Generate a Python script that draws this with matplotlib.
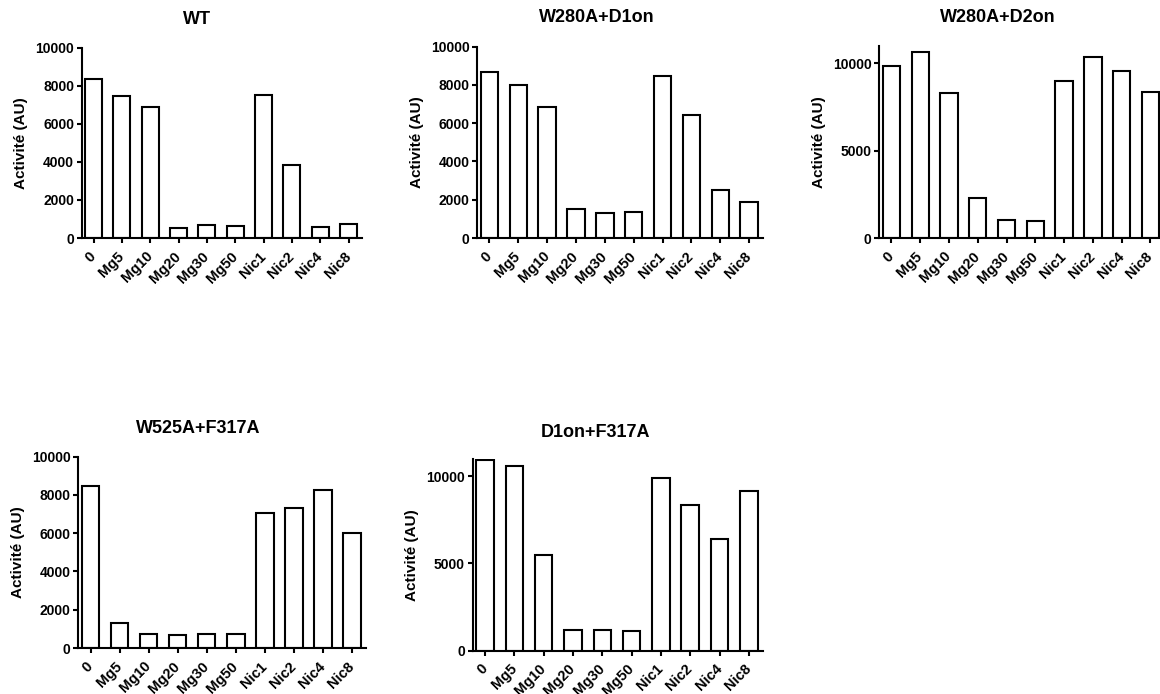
import matplotlib.pyplot as plt
import numpy as np

plt.rcParams["font.family"] = ["Liberation Sans", "DejaVu Sans"]
plt.rcParams["font.weight"] = "bold"

categories = ["0", "Mg5", "Mg10", "Mg20", "Mg30", "Mg50", "Nic1", "Nic2", "Nic4", "Nic8"]

wt = [8350, 7460, 6900, 540, 670, 630, 7490, 3840, 600, 750]
w280aD1on = [8660, 7990, 6850, 1540, 1280, 1350, 8480, 6430, 2510, 1900]
w280aD2on = [9860, 10630, 8280, 2310, 1010, 960, 9000, 10340, 9580, 8370]
w525aF317a = [8470, 1310, 710, 680, 730, 710, 7040, 7330, 8260, 6030]
d1onF317a = [10920, 10590, 5460, 1160, 1160, 1110, 9920, 8320, 6410, 9160]

lineW = 1.5
yTickSize = 10
xTickSize = 10.5
labelSize = 11
titleSize = 13

# panel layout in pixels: (axis x, axis right, y of zero, y of top), title centre, ylim, yticks
panels = [
    ("WT", wt, (81.7, 362, 238, 47.7), (197, 19), 10000, np.arange(0, 10001, 2000)),
    ("W280A+D1on", w280aD1on, (477.3, 762.7, 238, 46.5), (597, 18), 10000, np.arange(0, 10001, 2000)),
    ("W280A+D2on", w280aD2on, (879.3, 1164, 238, 45.7), (998, 18), 11000, [0, 5000, 10000]),
    ("W525A+F317A", w525aF317a, (78.3, 365.7, 648, 456.7), (198, 428), 10000, np.arange(0, 10001, 2000)),
    ("D1on+F317A", d1onF317a, (472.7, 762.7, 650.7, 458.7), (595, 433), 11000, [0, 5000, 10000]),
]

W, H = 1160, 694
fig = plt.figure(figsize=(W / 100, H / 100), dpi=100)

for title, values, box, titlePos, yTop, yTicks in panels:
    x0, x1, yZero, yHigh = box
    ax = fig.add_axes([x0 / W, 1 - yZero / H, (x1 - x0) / W, (yZero - yHigh) / H])
    x = np.arange(len(categories))
    ax.bar(x, values, width=0.6, facecolor="white", edgecolor="black", linewidth=lineW)
    ax.set_xlim(-0.42, len(categories) - 0.53)
    ax.set_ylim(0, yTop)
    ax.set_yticks(yTicks)
    ax.set_xticks(x)
    ax.set_xticklabels(categories, rotation=45, ha="right", va="center",
                       rotation_mode="anchor", fontsize=xTickSize, fontweight="bold")
    for lbl in ax.get_yticklabels():
        lbl.set_fontsize(yTickSize)
        lbl.set_fontweight("bold")
    ax.spines["top"].set_visible(False)
    ax.spines["right"].set_visible(False)
    ax.spines["left"].set_linewidth(lineW)
    ax.spines["bottom"].set_linewidth(lineW)
    ax.tick_params(axis="both", width=lineW, length=3.5, pad=2)
    ax.tick_params(axis="x", pad=8)
    ax.set_ylabel("Activité (AU)", fontsize=labelSize, fontweight="bold", labelpad=5)
    fig.text(titlePos[0] / W, 1 - titlePos[1] / H, title, ha="center", va="center",
             fontsize=titleSize, fontweight="bold")

fig.savefig("out.png", dpi=100)
